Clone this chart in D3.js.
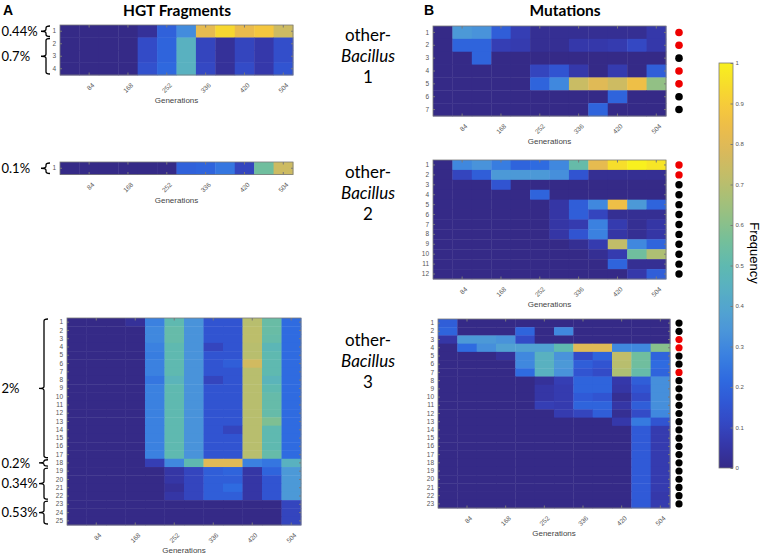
<!DOCTYPE html>
<html>
<head>
<meta charset="utf-8">
<script src="https://cdn.jsdelivr.net/npm/d3@7"></script>
<style>
  html, body { margin: 0; padding: 0; background: #fff; }
  svg { display: block; }
</style>
</head>
<body>
<svg id="chart" width="762" height="554"></svg>
<script>
// ---------------- DATA ----------------
const generations = [42, 84, 126, 168, 210, 252, 294, 336, 378, 420, 462, 504];
const tickGenerations = [84, 168, 252, 336, 420, 504];
const colorbarTicks = [0, 0.1, 0.2, 0.3, 0.4, 0.5, 0.6, 0.7, 0.8, 0.9, 1];

// Panel A: HGT fragment frequencies (rows = fragments)
const hgt1 = [
  [0, 0, 0, 0, 0.03, 0.19, 0.31, 0.82, 0.93, 0.83, 0.88, 0.75],
  [0, 0, 0, 0, 0.12, 0.20, 0.45, 0.10, 0.03, 0.10, 0.06, 0.13],
  [0, 0, 0, 0, 0.12, 0.20, 0.45, 0.10, 0.03, 0.10, 0.06, 0.13],
  [0, 0, 0, 0, 0.14, 0.21, 0.45, 0.11, 0.03, 0.12, 0.06, 0.15]
];
const hgt2 = [
  [0, 0, 0, 0, 0, 0, 0.19, 0.20, 0.25, 0.10, 0.55, 0.75]
];
const hgt3 = [
  [0, 0, 0, 0.03, 0.28, 0.50, 0.33, 0.15, 0.15, 0.70, 0.53, 0.22],
  [0, 0, 0, 0, 0.30, 0.52, 0.33, 0.15, 0.15, 0.71, 0.53, 0.22],
  [0, 0, 0, 0, 0.30, 0.52, 0.33, 0.15, 0.15, 0.71, 0.52, 0.22],
  [0, 0, 0, 0, 0.28, 0.50, 0.33, 0.10, 0.15, 0.70, 0.48, 0.22],
  [0, 0, 0, 0, 0.27, 0.50, 0.33, 0.15, 0.15, 0.70, 0.50, 0.22],
  [0, 0, 0, 0, 0.28, 0.50, 0.33, 0.15, 0.18, 0.76, 0.50, 0.22],
  [0, 0, 0, 0, 0.28, 0.50, 0.33, 0.15, 0.15, 0.70, 0.50, 0.22],
  [0, 0, 0, 0, 0.25, 0.47, 0.33, 0.10, 0.15, 0.70, 0.47, 0.22],
  [0, 0, 0, 0, 0.28, 0.50, 0.33, 0.15, 0.15, 0.70, 0.50, 0.22],
  [0, 0, 0, 0, 0.28, 0.50, 0.33, 0.15, 0.15, 0.70, 0.52, 0.22],
  [0, 0, 0, 0, 0.28, 0.50, 0.33, 0.15, 0.15, 0.70, 0.52, 0.22],
  [0, 0, 0, 0, 0.28, 0.50, 0.33, 0.15, 0.15, 0.70, 0.52, 0.22],
  [0, 0, 0, 0, 0.28, 0.50, 0.33, 0.15, 0.15, 0.70, 0.58, 0.22],
  [0, 0, 0, 0, 0.28, 0.50, 0.33, 0.15, 0.10, 0.70, 0.50, 0.22],
  [0, 0, 0, 0, 0.28, 0.50, 0.33, 0.15, 0.15, 0.70, 0.50, 0.22],
  [0, 0, 0, 0, 0.28, 0.50, 0.33, 0.15, 0.15, 0.70, 0.50, 0.22],
  [0, 0, 0, 0, 0.28, 0.50, 0.33, 0.15, 0.15, 0.70, 0.52, 0.22],
  [0, 0, 0, 0, 0.08, 0.30, 0.50, 0.80, 0.80, 0.28, 0.25, 0.45],
  [0, 0, 0, 0, 0, 0.05, 0.10, 0.18, 0.20, 0.05, 0.20, 0.35],
  [0, 0, 0, 0, 0, 0.05, 0.10, 0.18, 0.18, 0.05, 0.15, 0.35],
  [0, 0, 0, 0, 0, 0.03, 0.10, 0.18, 0.22, 0.05, 0.15, 0.35],
  [0, 0, 0, 0, 0, 0.05, 0.10, 0.18, 0.18, 0.05, 0.15, 0.35],
  [0, 0, 0, 0, 0, 0, 0, 0, 0, 0, 0, 0.10],
  [0, 0, 0, 0, 0, 0, 0, 0, 0, 0, 0, 0.10],
  [0, 0, 0, 0, 0, 0, 0, 0, 0, 0, 0, 0.10]
];
const hgtGroups1 = [{ label: "0.44%", from: 1, to: 1 }, { label: "0.7%", from: 2, to: 4 }];
const hgtGroups2 = [{ label: "0.1%", from: 1, to: 1 }];
const hgtGroups3 = [
  { label: "2%", from: 1, to: 17 }, { label: "0.2%", from: 18, to: 18 },
  { label: "0.34%", from: 19, to: 22 }, { label: "0.53%", from: 23, to: 25 }
];

// Panel B: mutation frequencies (rows = mutations)
const mut1 = [
  [0, 0.35, 0.33, 0.18, 0.08, 0.02, 0.02, 0.02, 0.02, 0.02, 0.02, 0.06],
  [0, 0.20, 0.20, 0.08, 0.07, 0.02, 0.02, 0.06, 0.06, 0.07, 0.11, 0.06],
  [0, 0, 0.20, 0, 0, 0, 0, 0, 0, 0, 0, 0],
  [0, 0, 0, 0, 0, 0.10, 0.15, 0.06, 0, 0.07, 0, 0.18],
  [0, 0, 0, 0, 0, 0.20, 0.30, 0.74, 0.80, 0.75, 0.85, 0.62],
  [0, 0, 0, 0, 0, 0, 0, 0, 0, 0.20, 0, 0],
  [0, 0, 0, 0, 0, 0, 0, 0, 0.20, 0, 0, 0]
];
const mut2 = [
  [0, 0.30, 0.33, 0.27, 0.20, 0.22, 0.30, 0.52, 0.82, 0.95, 1.0, 0.97],
  [0, 0.10, 0.18, 0.35, 0.35, 0.35, 0.32, 0.15, 0.02, 0.02, 0.02, 0.02],
  [0, 0, 0, 0.15, 0, 0, 0, 0, 0, 0, 0, 0],
  [0, 0, 0, 0, 0, 0.20, 0, 0, 0, 0, 0, 0],
  [0, 0, 0, 0, 0, 0, 0.05, 0.18, 0.30, 0.85, 0.35, 0.20],
  [0, 0, 0, 0, 0, 0, 0.05, 0.18, 0.10, 0.02, 0.02, 0.02],
  [0, 0, 0, 0, 0, 0, 0.05, 0.07, 0.28, 0.07, 0.02, 0.05],
  [0, 0, 0, 0, 0, 0, 0.05, 0.15, 0.28, 0.05, 0.02, 0.05],
  [0, 0, 0, 0, 0, 0, 0, 0.02, 0.07, 0.72, 0.30, 0.20],
  [0, 0, 0, 0, 0, 0, 0, 0, 0.02, 0.07, 0.55, 0.68],
  [0, 0, 0, 0, 0, 0, 0, 0, 0, 0.20, 0.02, 0.02],
  [0, 0, 0, 0, 0, 0, 0, 0, 0, 0, 0.06, 0.18]
];
const mut3 = [
  [0.18, 0, 0, 0, 0, 0, 0, 0, 0, 0, 0, 0],
  [0.20, 0, 0, 0, 0.20, 0, 0.30, 0, 0, 0, 0, 0],
  [0.05, 0.35, 0.35, 0.33, 0.12, 0, 0, 0, 0, 0, 0, 0],
  [0, 0.22, 0.32, 0.38, 0.38, 0.38, 0.50, 0.80, 0.80, 0.30, 0.30, 0.60],
  [0, 0, 0, 0.03, 0.30, 0.45, 0.33, 0.12, 0.20, 0.72, 0.55, 0.20],
  [0, 0, 0, 0, 0.30, 0.45, 0.35, 0.18, 0.15, 0.70, 0.55, 0.22],
  [0, 0, 0, 0, 0.22, 0.45, 0.33, 0.15, 0.12, 0.68, 0.52, 0.20],
  [0, 0, 0, 0, 0, 0.03, 0.08, 0.20, 0.20, 0.06, 0.18, 0.32],
  [0, 0, 0, 0, 0, 0.05, 0.07, 0.20, 0.20, 0.05, 0.15, 0.32],
  [0, 0, 0, 0, 0, 0.05, 0.07, 0.17, 0.15, 0.02, 0.12, 0.32],
  [0, 0, 0, 0, 0, 0.08, 0.07, 0.20, 0.20, 0.05, 0.18, 0.32],
  [0, 0, 0, 0, 0, 0, 0.07, 0.10, 0.18, 0.02, 0.12, 0.30],
  [0, 0, 0, 0, 0, 0, 0, 0, 0, 0.06, 0.26, 0.15],
  [0, 0, 0, 0, 0, 0, 0, 0, 0, 0, 0.17, 0.07],
  [0, 0, 0, 0, 0, 0, 0, 0, 0, 0, 0.17, 0.07],
  [0, 0, 0, 0, 0, 0, 0, 0, 0, 0, 0.17, 0.07],
  [0, 0, 0, 0, 0, 0, 0, 0, 0, 0, 0.17, 0.07],
  [0, 0, 0, 0, 0, 0, 0, 0, 0, 0, 0.17, 0.07],
  [0, 0, 0, 0, 0, 0, 0, 0, 0, 0, 0.17, 0.07],
  [0, 0, 0, 0, 0, 0, 0, 0, 0, 0, 0.17, 0.07],
  [0, 0, 0, 0, 0, 0, 0, 0, 0, 0, 0.17, 0.07],
  [0, 0, 0, 0, 0, 0, 0, 0, 0, 0, 0.17, 0.06],
  [0, 0, 0, 0, 0, 0, 0, 0, 0, 0, 0.17, 0.07]
];
// true = red dot, false = black dot
const mutMarked1 = [true, true, false, true, true, false, false];
const mutMarked2 = [true, true, false, false, false, false, false, false, false, false, false, false];
const mutMarked3 = [false, false, true, true, false, false, true,
  false, false, false, false, false, false, false, false, false, false, false, false, false, false, false, false];

const speciesLabels = ["1", "2", "3"];

// ---------------- COLORMAP (parula-like, as rendered in the figure) ----------------
const colormapStops = [
  "#352a87", "#3537a8", "#3448c4", "#3059d6", "#2f6ce0", "#3a80e0",
  "#4a94da", "#52a3d0", "#58b0c2", "#5fb9b0", "#72bf9c", "#8ec088",
  "#a8c077", "#c2bd68", "#d8b95c", "#ebbb4c", "#f6c83c", "#f7dc2c", "#f8f01e"
];
const color = d3.scaleSequential(d3.piecewise(d3.interpolateRgb, colormapStops)).domain([0, 1]);

// ---------------- DRAWING ----------------
const svg = d3.select("#chart");
const AX = "#7a7a7a";
const TXT = "#555";
const SMALL = "Liberation Sans, Arial, sans-serif";
const BIG = "Lato, 'Open Sans', sans-serif";

function heatmap(values, box) {
  const g = svg.append("g");
  const rows = d3.range(1, values.length + 1);
  const x = d3.scaleBand().domain(generations).range([box.x0, box.x1]);
  const y = d3.scaleBand().domain(rows).range([box.y0, box.y1]);

  const cells = [];
  values.forEach((row, ri) => row.forEach((v, ci) => cells.push({ r: ri + 1, g: generations[ci], v })));
  g.selectAll("rect.cell").data(cells).join("rect")
    .attr("class", "cell")
    .attr("x", d => x(d.g)).attr("y", d => y(d.r))
    .attr("width", x.bandwidth() + 0.4).attr("height", y.bandwidth() + 0.4)
    .attr("fill", d => color(d.v));

  g.append("rect").attr("x", box.x0).attr("y", box.y0)
    .attr("width", box.x1 - box.x0).attr("height", box.y1 - box.y0)
    .attr("fill", "none").attr("stroke", AX).attr("stroke-width", 0.8);

  const xb = g.append("g").attr("transform", `translate(0,${box.y1})`)
    .call(d3.axisBottom(x).tickValues(tickGenerations).tickSize(-2.5).tickSizeOuter(0));
  xb.select(".domain").remove();
  xb.selectAll("line").attr("stroke", AX);
  xb.selectAll("text")
    .attr("y", null).attr("dy", "0.35em")
    .attr("text-anchor", "end")
    .attr("transform", "translate(4,9) rotate(-45)")
    .attr("fill", TXT).attr("font-family", SMALL).attr("font-size", 6.5);
  const xt = g.append("g").attr("transform", `translate(0,${box.y0})`)
    .call(d3.axisTop(x).tickValues(tickGenerations).tickSize(-2.5).tickFormat(""));
  xt.select(".domain").remove();
  xt.selectAll("line").attr("stroke", AX);

  const yl = g.append("g").attr("transform", `translate(${box.x0},0)`)
    .call(d3.axisLeft(y).tickSize(-2).tickPadding(4).tickSizeOuter(0));
  yl.select(".domain").remove();
  yl.selectAll("line").attr("stroke", AX);
  yl.selectAll("text").attr("fill", TXT).attr("font-family", SMALL).attr("font-size", 6.5);
  const yr = g.append("g").attr("transform", `translate(${box.x1},0)`)
    .call(d3.axisRight(y).tickSize(-2).tickFormat(""));
  yr.select(".domain").remove();
  yr.selectAll("line").attr("stroke", AX);

  g.append("text").attr("x", (box.x0 + box.x1) / 2).attr("y", box.y1 + 28)
    .attr("text-anchor", "middle").attr("font-family", SMALL).attr("font-size", 8)
    .attr("fill", "#444").text("Generations");
  return { x, y };
}

function brackets(groups, y, tipX) {
  groups.forEach(gr => {
    const t = y(gr.from) + 1, b = y(gr.to) + y.bandwidth() - 1, m = (t + b) / 2;
    const v = tipX + 5, e = tipX + 9;
    const c = Math.min(2, (b - t) / 4);
    const p = d3.path();
    p.moveTo(e, t); p.quadraticCurveTo(v, t, v, t + c);
    p.lineTo(v, m - c); p.quadraticCurveTo(v, m, tipX, m);
    p.quadraticCurveTo(v, m, v, m + c);
    p.lineTo(v, b - c); p.quadraticCurveTo(v, b, e, b);
    svg.append("path").attr("d", p.toString()).attr("fill", "none")
      .attr("stroke", "#000").attr("stroke-width", 1.3);
    svg.append("text").attr("x", 1.5).attr("y", m).attr("dy", "0.36em")
      .attr("font-family", BIG).attr("font-size", 13).attr("fill", "#000").text(gr.label);
  });
}

function dots(marked, y, cx, r) {
  svg.append("g").selectAll("circle").data(marked.map((m, i) => ({ m, row: i + 1 }))).join("circle")
    .attr("cx", cx).attr("cy", d => y(d.row) + y.bandwidth() / 2).attr("r", r)
    .attr("fill", d => d.m ? "#ee0000" : "#000");
}

// Panel A
const a1 = heatmap(hgt1, { x0: 60, x1: 293, y0: 25, y1: 75 });
brackets(hgtGroups1, a1.y, 41);
const a2 = heatmap(hgt2, { x0: 60, x1: 293, y0: 162, y1: 174.5 });
brackets(hgtGroups2, a2.y, 41);
const a3 = heatmap(hgt3, { x0: 67, x1: 301, y0: 318, y1: 525 });
brackets(hgtGroups3, a3.y, 39);

// Panel B
const b1 = heatmap(mut1, { x0: 433, x1: 666, y0: 26, y1: 116 });
dots(mutMarked1, b1.y, 679, 3.8);
const b2 = heatmap(mut2, { x0: 433, x1: 666, y0: 160, y1: 279 });
dots(mutMarked2, b2.y, 679, 3.7);
const b3 = heatmap(mut3, { x0: 438, x1: 670, y0: 319, y1: 508 });
dots(mutMarked3, b3.y, 679, 3.6);

// Titles
svg.append("text").attr("x", 3).attr("y", 15).attr("font-family", SMALL).attr("font-weight", "bold")
  .attr("font-size", 14).text("A");
svg.append("text").attr("x", 177).attr("y", 16).attr("text-anchor", "middle").attr("font-family", BIG)
  .attr("font-weight", "bold").attr("font-size", 15.5).text("HGT Fragments");
svg.append("text").attr("x", 424).attr("y", 15).attr("font-family", SMALL).attr("font-weight", "bold")
  .attr("font-size", 14).text("B");
svg.append("text").attr("x", 565).attr("y", 16).attr("text-anchor", "middle").attr("font-family", BIG)
  .attr("font-weight", "bold").attr("font-size", 15.5).text("Mutations");

// Species labels
const speciesY = [41, 178, 346];
speciesLabels.forEach((s, i) => {
  const t = svg.append("text").attr("text-anchor", "middle").attr("font-family", BIG)
    .attr("font-size", 17).attr("fill", "#000");
  t.append("tspan").attr("x", 368).attr("y", speciesY[i]).text("other-");
  t.append("tspan").attr("x", 368).attr("y", speciesY[i] + 21).attr("font-style", "italic").text("Bacillus");
  t.append("tspan").attr("x", 368).attr("y", speciesY[i] + 42).text(s);
});

// Colorbar
const cb = { x0: 719, x1: 733, y0: 63, y1: 468 };
const defs = svg.append("defs");
const grad = defs.append("linearGradient").attr("id", "cbgrad")
  .attr("x1", 0).attr("y1", 1).attr("x2", 0).attr("y2", 0);
d3.range(0, 1.0001, 0.02).forEach(t => grad.append("stop").attr("offset", t).attr("stop-color", color(t)));
svg.append("rect").attr("x", cb.x0).attr("y", cb.y0).attr("width", cb.x1 - cb.x0).attr("height", cb.y1 - cb.y0)
  .attr("fill", "url(#cbgrad)").attr("stroke", AX).attr("stroke-width", 0.8);
const cbScale = d3.scaleLinear().domain([0, 1]).range([cb.y1, cb.y0]);
const cbAxis = svg.append("g").attr("transform", `translate(${cb.x1},0)`)
  .call(d3.axisRight(cbScale).tickValues(colorbarTicks).tickSize(-2.5).tickPadding(2.5).tickFormat(d3.format("")));
cbAxis.select(".domain").remove();
cbAxis.selectAll("line").attr("stroke", AX);
cbAxis.selectAll("text").attr("fill", TXT).attr("font-family", SMALL).attr("font-size", 6);
svg.append("text").attr("transform", `translate(749.5,253) rotate(90)`).attr("text-anchor", "middle")
  .attr("font-family", SMALL).attr("font-size", 13).attr("fill", "#000").text("Frequency");
</script>
</body>
</html>
